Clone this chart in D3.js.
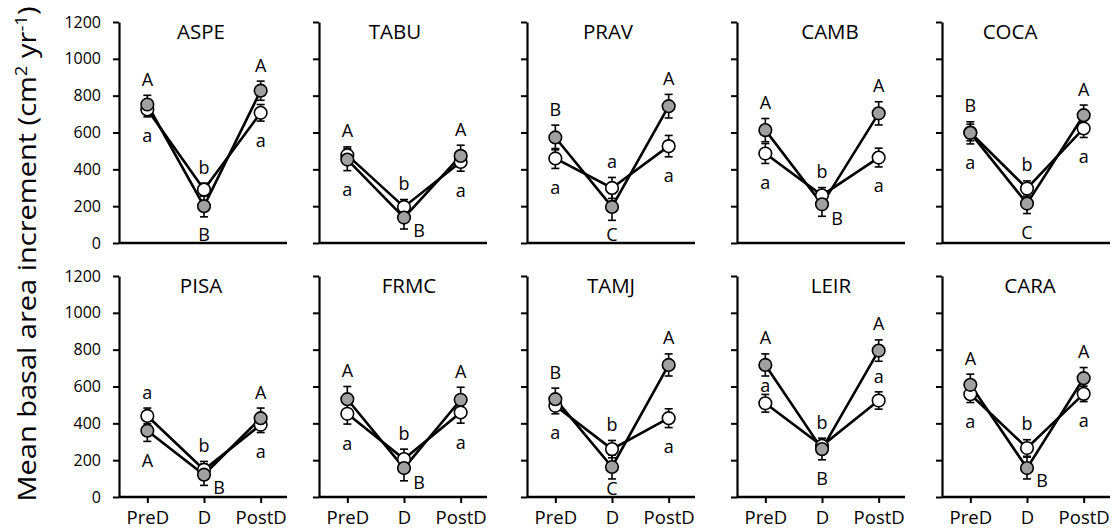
<!DOCTYPE html>
<html>
<head>
<meta charset="utf-8">
<script src="https://cdn.jsdelivr.net/npm/d3@7"></script>
<style>
  html, body { margin: 0; padding: 0; background: #fff; }
  svg { display: block; font-family: "Open Sans", sans-serif; }
</style>
</head>
<body>
<svg id="chart" width="1113" height="532"></svg>
<script>
// ---------------- data ----------------
const species = ["ASPE", "TABU", "PRAV", "CAMB", "COCA", "PISA", "FRMC", "TAMJ", "LEIR", "CARA"];
const periods = ["PreD", "D", "PostD"];
const yTicks = [0, 200, 400, 600, 800, 1000, 1200];

// open (white) series: means and error bars
const whiteMean = [
  [725, 290, 707], [477, 196, 440], [459, 299, 526], [486, 259, 464], [600, 296, 622],
  [440, 148, 392], [452, 206, 459], [495, 260, 428], [509, 278, 524], [558, 266, 560]
];
const whiteErr = [
  [40, 35, 45], [45, 40, 50], [54, 57, 58], [54, 42, 51], [45, 41, 49],
  [43, 45, 42], [56, 54, 58], [43, 47, 51], [48, 40, 47], [45, 45, 42]
];
// filled (grey) series
const greyMean = [
  [752, 200, 827], [453, 138, 473], [573, 196, 743], [613, 210, 704], [598, 214, 694],
  [360, 121, 428], [531, 157, 528], [531, 163, 717], [717, 260, 795], [609, 157, 645]
];
const greyErr = [
  [50, 58, 52], [60, 62, 58], [67, 73, 64], [63, 65, 63], [60, 54, 55],
  [58, 58, 55], [69, 69, 68], [60, 65, 60], [60, 58, 58], [58, 59, 58]
];
// significance letters
const upperLetters = [
  ["A", "B", "A"], ["A", "B", "A"], ["B", "C", "A"], ["A", "B", "A"], ["B", "C", "A"],
  ["A", "B", "A"], ["A", "B", "A"], ["B", "C", "A"], ["A", "B", "A"], ["A", "B", "A"]
];
const lowerLetters = [
  ["a", "b", "a"], ["a", "b", "a"], ["a", "a", "a"], ["a", "b", "a"], ["a", "b", "a"],
  ["a", "b", "a"], ["a", "b", "a"], ["a", "b", "a"], ["a", "b", "a"], ["a", "b", "a"]
];
// where each letter sits relative to the points
const upperPlace = [
  ["above", "below", "above"], ["above", "right", "above"], ["above", "below", "above"],
  ["above", "right", "above"], ["above", "below", "above"], ["below", "right", "above"],
  ["above", "right", "above"], ["above", "below", "above"], ["above", "below", "above"],
  ["above", "right", "above"]
];
const lowerPlace = [
  ["below", "above", "below"], ["below", "above", "below"], ["below", "above", "below"],
  ["below", "above", "below"], ["below", "above", "below"], ["above", "above", "below"],
  ["below", "above", "below"], ["below", "above", "below"], ["mid", "above", "mid"],
  ["below", "above", "below"]
];

// ---------------- layout ----------------
const svg = d3.select("#chart");
const colX = [119, 319, 527, 737, 942];
const rowTop = [22, 276];
const plotW = 168, plotH = 221;
const titleShift = [-3, -9, -4, 8, -17, -3, 5, -1, 9, 3];

const x = d3.scalePoint().domain(periods).range([0, 170]).padding(0.5);

species.forEach((sp, i) => {
  const row = Math.floor(i / 5), col = i % 5;
  const g = svg.append("g").attr("transform", `translate(${colX[col]},${rowTop[row]})`);
  const y = d3.scaleLinear().domain([0, 1200]).range([plotH, 0]);

  // y axis
  const yAx = d3.axisLeft(y).tickValues(yTicks).tickSize(6).tickSizeOuter(0)
    .tickFormat(col === 0 ? d3.format("d") : () => "");
  const yg = g.append("g").call(yAx);
  yg.select(".domain").attr("stroke-width", 2.2);
  yg.selectAll(".tick line").attr("stroke-width", 2);
  yg.selectAll(".tick text").attr("font-size", 16).attr("font-family", "Open Sans")
    .attr("fill", "#000").attr("x", -18);

  // x axis
  const xAx = d3.axisBottom(x).tickSizeOuter(0)
    .tickSize(row === 1 ? 6 : 0).tickFormat(row === 1 ? (d => d) : () => "");
  const xg = g.append("g").attr("transform", `translate(0,${plotH})`).call(xAx);
  xg.select(".domain").attr("stroke-width", 2.6).attr("d", `M0,0H${plotW}`);
  xg.selectAll(".tick line").attr("stroke-width", 2);
  xg.selectAll(".tick text").attr("font-size", 18.5).attr("font-family", "Open Sans")
    .attr("fill", "#000").attr("y", 14);

  // title
  g.append("text").attr("x", x("D") + titleShift[i]).attr("y", 17)
    .attr("text-anchor", "middle").attr("font-size", 20.5).text(sp);

  const series = [
    { mean: whiteMean[i], err: whiteErr[i], fill: "#ffffff" },
    { mean: greyMean[i], err: greyErr[i], fill: "#a0a0a0" }
  ];
  const line = d3.line().x((d, k) => x(periods[k])).y(d => y(d));

  // lines
  series.forEach(s => {
    g.append("path").attr("d", line(s.mean)).attr("fill", "none")
      .attr("stroke", "#000").attr("stroke-width", 2.6);
  });
  // error bars
  series.forEach(s => {
    s.mean.forEach((m, k) => {
      const cx = x(periods[k]);
      const eb = g.append("g").attr("stroke", "#000").attr("stroke-width", 1.6);
      eb.append("line").attr("x1", cx).attr("x2", cx).attr("y1", y(m - s.err[k])).attr("y2", y(m + s.err[k]));
      [m - s.err[k], m + s.err[k]].forEach(v => {
        eb.append("line").attr("x1", cx - 4).attr("x2", cx + 4).attr("y1", y(v)).attr("y2", y(v));
      });
    });
  });
  // points
  series.forEach(s => {
    g.selectAll(null).data(s.mean).enter().append("circle")
      .attr("cx", (d, k) => x(periods[k])).attr("cy", d => y(d)).attr("r", 6.3)
      .attr("fill", s.fill).attr("stroke", "#000").attr("stroke-width", 1.6);
  });

  // letters
  function place(k, how) {
    const cx = x(periods[k]);
    const wTop = y(whiteMean[i][k] + whiteErr[i][k]), gTop = y(greyMean[i][k] + greyErr[i][k]);
    const wBot = y(whiteMean[i][k] - whiteErr[i][k]), gBot = y(greyMean[i][k] - greyErr[i][k]);
    if (how === "above") return [cx, Math.min(wTop, gTop) - 16];
    if (how === "below") return [cx, Math.min(Math.max(wBot, gBot) + 19, plotH - 8)];
    if (how === "right") return [cx + 15, gBot + 2];
    return [cx, (gBot + wTop) / 2];
  }
  periods.forEach((p, k) => {
    [[upperLetters[i][k], upperPlace[i][k]], [lowerLetters[i][k], lowerPlace[i][k]]].forEach(([t, how]) => {
      const [lx, ly] = place(k, how);
      g.append("text").attr("x", lx).attr("y", ly).attr("dy", "0.36em")
        .attr("text-anchor", "middle").attr("font-size", 18).text(t);
    });
  });
});

// y axis title
const yt = svg.append("text").attr("transform", "translate(36,254) rotate(-90) scale(1.16,1)")
  .attr("text-anchor", "middle").attr("font-size", 25);
yt.append("tspan").text("Mean basal area increment (cm");
yt.append("tspan").attr("font-size", 16).attr("dy", -9).text("2");
yt.append("tspan").attr("dy", 9).text(" yr");
yt.append("tspan").attr("font-size", 16).attr("dy", -9).text("-1");
yt.append("tspan").attr("dy", 9).text(")");
</script>
</body>
</html>
